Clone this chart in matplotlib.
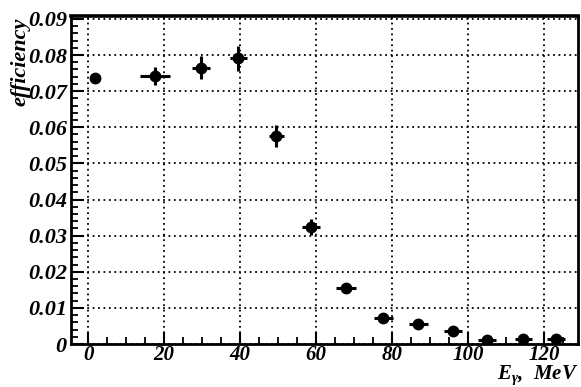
import matplotlib
matplotlib.use("Agg")
import matplotlib.pyplot as plt
from matplotlib.ticker import MultipleLocator

plt.rcParams['font.family'] = ['Liberation Serif', 'DejaVu Serif']
plt.rcParams['mathtext.fontset'] = 'custom'
plt.rcParams['mathtext.it'] = 'Liberation Serif:italic:bold'
plt.rcParams['mathtext.rm'] = 'Liberation Serif:italic:bold'
plt.rcParams['mathtext.bf'] = 'Liberation Serif:italic:bold'

# Data
energy = [1.8, 17.6, 29.7, 39.6, 49.6, 58.7, 68.0, 77.7, 86.9, 96.1, 105.0, 114.6, 123.2]
energy_err = [0.0, 4.0, 2.4, 2.2, 2.0, 2.4, 2.6, 2.5, 2.5, 2.3, 2.3, 2.3, 2.4]
efficiency = [0.0737, 0.0742, 0.0765, 0.0791, 0.0575, 0.0323, 0.0156, 0.0073, 0.0055,
              0.0036, 0.0011, 0.0013, 0.0013]
efficiency_err = [0.0008, 0.0025, 0.0032, 0.0035, 0.0030, 0.0022, 0.0010, 0.0009, 0.0008,
                  0.0008, 0.0006, 0.0008, 0.0008]
x_ticks = [0, 20, 40, 60, 80, 100, 120]
y_ticks = [0, 0.01, 0.02, 0.03, 0.04, 0.05, 0.06, 0.07, 0.08, 0.09]
y_tick_labels = ['0', '0.01', '0.02', '0.03', '0.04', '0.05', '0.06', '0.07', '0.08', '0.09']

fig = plt.figure(figsize=(5.81, 3.87), dpi=100)
ax = fig.add_axes([0.1222, 0.111, 0.8726, 0.8477])

ax.errorbar(energy, efficiency, xerr=energy_err, yerr=efficiency_err, fmt='o',
            color='black', markersize=7.5, elinewidth=2.2, capsize=0, zorder=3)

ax.set_xlim(-4.5, 129)
ax.set_ylim(0, 0.0908)
ax.set_xticks(x_ticks)
ax.set_yticks(y_ticks)
ax.set_yticklabels(y_tick_labels)
ax.xaxis.set_minor_locator(MultipleLocator(5))
ax.yaxis.set_minor_locator(MultipleLocator(0.002))

ax.grid(True, which='major', linestyle=(0, (1, 2)), color='black', linewidth=1.3)

ax.tick_params(which='major', direction='in', length=9, width=1.5, top=False, right=False)
ax.tick_params(which='minor', direction='in', length=5, width=1.3, top=False, right=False)
ax.tick_params(axis='y', labelsize=16, pad=3)
ax.tick_params(axis='x', labelsize=15, pad=1)
for lab in ax.get_xticklabels() + ax.get_yticklabels():
    lab.set_fontweight('bold')
    lab.set_fontstyle('italic')

for side in ['left', 'bottom', 'right']:
    ax.spines[side].set_linewidth(2)
ax.spines['top'].set_linewidth(2.6)

fig.text(0.035, 0.84, 'efficiency', rotation=90, ha='center', va='center',
         fontsize=16, fontweight='bold', fontstyle='italic')
fig.text(0.995, 0.0, r'$E_\gamma$,  MeV', ha='right', va='bottom', fontsize=15,
         fontweight='bold', fontstyle='italic')

fig.savefig('out.png', dpi=100)
